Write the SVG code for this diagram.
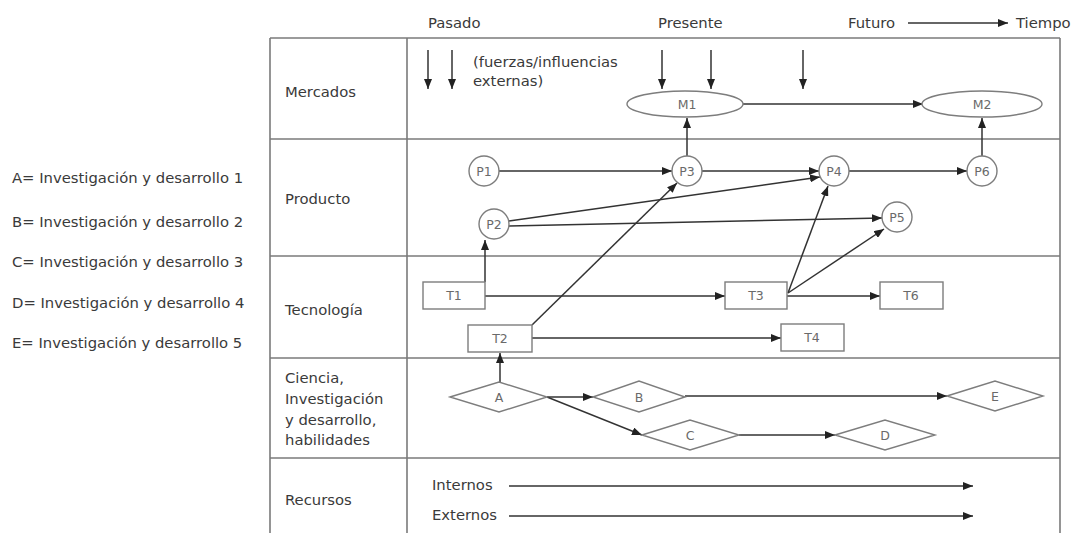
<svg xmlns="http://www.w3.org/2000/svg" width="1085" height="533" viewBox="0 0 1085 533">
  <style>
    .bg { fill: #ffffff; }
    .grid { stroke: #7a7a7a; stroke-width: 1.6; fill: none; }
    .lbl { font-family: "DejaVu Sans", Verdana, sans-serif; font-size: 14.8px; fill: #3a3a3a; }
    .nd { fill: #ffffff; stroke: #7d7d7d; stroke-width: 1.4; }
    .ndt { font-family: "DejaVu Sans", Verdana, sans-serif; font-size: 12.5px; fill: #6a6a6a; text-anchor: middle; }
    .edge { stroke: #333333; stroke-width: 1.5; fill: none; marker-end: url(#arr); }
  </style>
  <defs>
    <marker id="arr" markerUnits="userSpaceOnUse" markerWidth="11" markerHeight="8" refX="10" refY="4" orient="auto">
      <path d="M0,0 L10,4 L0,8 z" fill="#222222"/>
    </marker>
  </defs>

  <rect class="bg" x="0" y="0" width="1085" height="533"/>

  <!-- time axis header -->
  <g id="header">
    <text class="lbl" x="428" y="28">Pasado</text>
    <text class="lbl" x="658" y="28">Presente</text>
    <text class="lbl" x="848" y="28">Futuro</text>
    <line class="edge" x1="908" y1="23" x2="1008" y2="23"/>
    <text class="lbl" x="1016" y="28">Tiempo</text>
  </g>

  <!-- legend -->
  <g id="legend">
    <text class="lbl" x="12" y="183">A= Investigación y desarrollo 1</text>
    <text class="lbl" x="12" y="227">B= Investigación y desarrollo 2</text>
    <text class="lbl" x="12" y="267">C= Investigación y desarrollo 3</text>
    <text class="lbl" x="12" y="308">D= Investigación y desarrollo 4</text>
    <text class="lbl" x="12" y="348">E= Investigación y desarrollo 5</text>
  </g>

  <!-- table frame -->
  <g id="table">
    <line class="grid" x1="270" y1="38" x2="270" y2="533"/>
    <line class="grid" x1="407" y1="38" x2="407" y2="533"/>
    <line class="grid" x1="1060" y1="38" x2="1060" y2="533"/>
    <line class="grid" x1="270" y1="38" x2="1060" y2="38"/>
    <line class="grid" x1="270" y1="139" x2="1060" y2="139"/>
    <line class="grid" x1="270" y1="256" x2="1060" y2="256"/>
    <line class="grid" x1="270" y1="358" x2="1060" y2="358"/>
    <line class="grid" x1="270" y1="458" x2="1060" y2="458"/>
    <text class="lbl" x="285" y="97">Mercados</text>
    <text class="lbl" x="285" y="204">Producto</text>
    <text class="lbl" x="285" y="315">Tecnología</text>
    <text class="lbl" x="285" y="383">Ciencia,</text>
    <text class="lbl" x="285" y="404">Investigación</text>
    <text class="lbl" x="285" y="425">y desarrollo,</text>
    <text class="lbl" x="285" y="445">habilidades</text>
    <text class="lbl" x="285" y="505">Recursos</text>
  </g>

  <!-- connectors -->
  <g id="connectors">
    <!-- external forces -->
    <line class="edge" x1="428" y1="50" x2="428" y2="89"/>
    <line class="edge" x1="452" y1="50" x2="452" y2="89"/>
    <line class="edge" x1="662" y1="50" x2="662" y2="89"/>
    <line class="edge" x1="711" y1="50" x2="711" y2="89"/>
    <line class="edge" x1="803" y1="50" x2="803" y2="89"/>
    <!-- markets -->
    <line class="edge" x1="743" y1="104" x2="923" y2="104"/>
    <line class="edge" x1="687" y1="156" x2="687" y2="118"/>
    <line class="edge" x1="982" y1="156" x2="982" y2="118"/>
    <!-- products -->
    <line class="edge" x1="499" y1="171" x2="672" y2="171"/>
    <line class="edge" x1="702" y1="171" x2="819" y2="171"/>
    <line class="edge" x1="849" y1="171" x2="967" y2="171"/>
    <line class="edge" x1="509" y1="221" x2="820" y2="177"/>
    <line class="edge" x1="509" y1="226" x2="882" y2="218"/>
    <!-- technology -->
    <line class="edge" x1="485" y1="282" x2="485" y2="240"/>
    <line class="edge" x1="485" y1="296" x2="725" y2="296"/>
    <line class="edge" x1="787" y1="296" x2="880" y2="296"/>
    <line class="edge" x1="532" y1="338" x2="781" y2="338"/>
    <line class="edge" x1="532" y1="325" x2="677" y2="183"/>
    <line class="edge" x1="788" y1="293" x2="828" y2="186"/>
    <line class="edge" x1="788" y1="293" x2="884" y2="229"/>
    <!-- science -->
    <line class="edge" x1="500" y1="382" x2="500" y2="353"/>
    <line class="edge" x1="547" y1="397" x2="593" y2="397"/>
    <line class="edge" x1="547" y1="397" x2="642" y2="435"/>
    <line class="edge" x1="685" y1="396" x2="947" y2="396"/>
    <line class="edge" x1="739" y1="435" x2="835" y2="435"/>
    <!-- resources -->
    <line class="edge" x1="509" y1="486" x2="973" y2="486"/>
    <line class="edge" x1="509" y1="516" x2="973" y2="516"/>
  </g>

  <text class="lbl" x="473" y="67">(fuerzas/influencias</text>
  <text class="lbl" x="473" y="86">externas)</text>
  <text class="lbl" x="432" y="490">Internos</text>
  <text class="lbl" x="432" y="520">Externos</text>

  <!-- markets -->
  <g id="M1"><ellipse class="nd" cx="685" cy="104" rx="58" ry="13"/><text class="ndt" x="687" y="109">M1</text></g>
  <g id="M2"><ellipse class="nd" cx="982" cy="104" rx="60" ry="13"/><text class="ndt" x="982" y="109">M2</text></g>

  <!-- products -->
  <g id="P1"><circle class="nd" cx="484" cy="171" r="15"/><text class="ndt" x="484" y="176">P1</text></g>
  <g id="P2"><circle class="nd" cx="494" cy="224" r="15"/><text class="ndt" x="494" y="229">P2</text></g>
  <g id="P3"><circle class="nd" cx="687" cy="171" r="15"/><text class="ndt" x="687" y="176">P3</text></g>
  <g id="P4"><circle class="nd" cx="834" cy="171" r="15"/><text class="ndt" x="834" y="176">P4</text></g>
  <g id="P5"><circle class="nd" cx="897" cy="217" r="15"/><text class="ndt" x="897" y="222">P5</text></g>
  <g id="P6"><circle class="nd" cx="982" cy="171" r="15"/><text class="ndt" x="982" y="176">P6</text></g>

  <!-- technologies -->
  <g id="T1"><rect class="nd" x="423" y="282" width="62" height="27"/><text class="ndt" x="454" y="300">T1</text></g>
  <g id="T2"><rect class="nd" x="468" y="325" width="64" height="27"/><text class="ndt" x="500" y="343">T2</text></g>
  <g id="T3"><rect class="nd" x="725" y="282" width="62" height="27"/><text class="ndt" x="756" y="300">T3</text></g>
  <g id="T4"><rect class="nd" x="781" y="324" width="63" height="27"/><text class="ndt" x="812" y="342">T4</text></g>
  <g id="T6"><rect class="nd" x="880" y="282" width="63" height="27"/><text class="ndt" x="911" y="300">T6</text></g>

  <!-- science / R&D -->
  <g id="A"><polygon class="nd" points="450,397 499,382 547,397 499,412"/><text class="ndt" x="499" y="402">A</text></g>
  <g id="B"><polygon class="nd" points="593,397 639,381 685,397 639,412"/><text class="ndt" x="639" y="402">B</text></g>
  <g id="C"><polygon class="nd" points="642,435 690,420 739,435 690,450"/><text class="ndt" x="690" y="440">C</text></g>
  <g id="D"><polygon class="nd" points="835,435 885,420 935,435 885,450"/><text class="ndt" x="885" y="440">D</text></g>
  <g id="E"><polygon class="nd" points="947,396 995,381 1043,396 995,411"/><text class="ndt" x="995" y="401">E</text></g>
</svg>
